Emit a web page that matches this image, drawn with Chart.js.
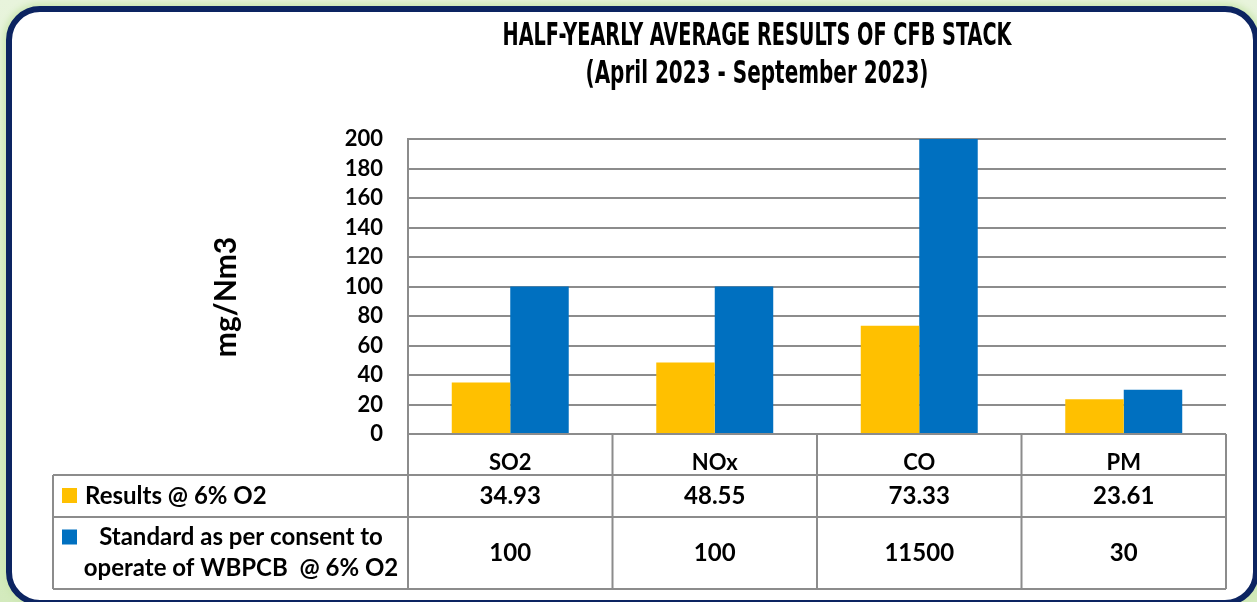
<!DOCTYPE html>
<html>
<head>
<meta charset="utf-8">
<title>CFB stack results</title>
<script src="https://cdn.jsdelivr.net/npm/chart.js@4.4.0/dist/chart.umd.min.js"></script>
<style>
  html, body {
    margin: 0;
    padding: 0;
    width: 1257px;
    height: 602px;
    overflow: hidden;
    background: linear-gradient(#e8f4dc, #d3eabd);
  }
  .card {
    position: absolute;
    left: 6px;
    top: 6px;
    width: 1253px;
    height: 600px;
    box-sizing: border-box;
    border: 6px solid #0c2461;
    border-radius: 34px;
    background: #fff;
    box-shadow: 0 0 6px 3px #cde7b3;
  }
  #chart { position: absolute; left: 0; top: 0; }
</style>
</head>
<body>
<div class="card"></div>
<canvas id="chart" width="1257" height="602"></canvas>

<script>
// chart data
const categories = ['SO2', 'NOx', 'CO', 'PM'];
const resultValues = [34.93, 48.55, 73.33, 23.61];
const standardValues = [100, 100, 11500, 30];   // CO standard runs off the 0-200 axis
const seriesLabels = [
  ['Results @ 6% O2'],
  ['Standard as per consent to', 'operate of WBPCB  @ 6% O2'],
];
const seriesColours = ['#FFC000', '#0070C0'];
const yTickRange = { min: 0, max: 200, step: 20 };

const titleLines = ['HALF-YEARLY AVERAGE RESULTS OF CFB STACK', '(April 2023 - September 2023)'];
const yAxisTitle = 'mg/Nm3';

const FONT = 'Lato';

// title + y axis title, drawn on the canvas
const headerPlugin = {
  id: 'header',
  afterDraw(chart) {
    const ctx = chart.ctx;
    ctx.save();
    ctx.fillStyle = '#000';
    ctx.font = 'bold 32px "DejaVu Sans Condensed", "DejaVu Sans", sans-serif';
    ctx.textAlign = 'center';
    ctx.textBaseline = 'alphabetic';
    // squeeze each line to the width of the condensed original face
    const widths = [509, 343];
    const baselines = [45, 83];
    titleLines.forEach((line, i) => {
      const sx = widths[i] / ctx.measureText(line).width;
      ctx.save();
      ctx.translate(757, baselines[i]);
      ctx.scale(sx, 1);
      ctx.fillText(line, 0, 0);
      ctx.restore();
    });

    ctx.font = `bold 30px ${FONT}`;
    ctx.translate(226, 297);
    ctx.rotate(-Math.PI / 2);
    ctx.textBaseline = 'middle';
    ctx.fillText(yAxisTitle, 0, 0);
    ctx.restore();
  },
};

// data table under the plot, columns taken from the x scale
const tablePlugin = {
  id: 'dataTable',
  afterDraw(chart) {
    const { ctx, chartArea: area, scales: { x } } = chart;
    const colW = (area.right - area.left) / categories.length;
    const y0 = area.bottom;
    const y1 = y0 + 41;
    const y2 = y1 + 42;
    const y3 = y2 + 72;
    const tableLeft = 53;

    ctx.save();
    ctx.strokeStyle = '#8c8c8c';
    ctx.lineWidth = 2;
    ctx.beginPath();
    [y1, y2, y3].forEach(y => {
      ctx.moveTo(tableLeft, y);
      ctx.lineTo(area.right, y);
    });
    ctx.moveTo(tableLeft, y1);
    ctx.lineTo(tableLeft, y3);
    for (let i = 0; i <= categories.length; i++) {
      const xx = area.left + i * colW;
      ctx.moveTo(xx, y0);
      ctx.lineTo(xx, y3);
    }
    ctx.stroke();

    ctx.textBaseline = 'middle';
    const rowMid = [(y1 + y2) / 2, (y2 + y3) / 2];

    chart.data.datasets.forEach((ds, d) => {
      ctx.fillStyle = '#000';
      ctx.font = `bold 24px ${FONT}`;
      ctx.textAlign = 'center';
      ds.tableValues.forEach((v, i) => {
        ctx.fillText(String(v), x.getPixelForValue(i), rowMid[d]);
      });

      // legend key + series label
      const lines = seriesLabels[d];
      const lh = 31;
      const firstY = rowMid[d] - (lines.length - 1) * lh / 2;
      ctx.fillStyle = ds.backgroundColor;
      ctx.fillRect(62, firstY - 8, 15, 15);
      ctx.fillStyle = '#000';
      ctx.font = `bold 24px ${FONT}`;
      if (lines.length === 1) {
        ctx.textAlign = 'left';
        ctx.fillText(lines[0], 85, firstY);
      } else {
        ctx.textAlign = 'center';
        lines.forEach((t, k) => ctx.fillText(t, 241, firstY + k * lh));
      }
    });
    ctx.restore();
  },
};

new Chart(document.getElementById('chart'), {
  type: 'bar',
  data: {
    labels: categories,
    datasets: [
      {
        label: seriesLabels[0].join(' '),
        data: resultValues,
        tableValues: resultValues,
        backgroundColor: seriesColours[0],
        barPercentage: 1,
        categoryPercentage: 0.572,
      },
      {
        label: seriesLabels[1].join(' '),
        data: standardValues,
        tableValues: standardValues,
        backgroundColor: seriesColours[1],
        barPercentage: 1,
        categoryPercentage: 0.572,
      },
    ],
  },
  options: {
    responsive: false,
    animation: false,
    layout: { padding: { top: 139, right: 31, bottom: 127, left: 0 } },
    plugins: {
      legend: { display: false },
      title: { display: false },
      tooltip: { enabled: false },
    },
    scales: {
      x: {
        grid: { display: false },
        border: { display: false },
        ticks: {
          color: '#000',
          padding: 8,
          font: { family: FONT, size: 22, weight: 'bold' },
        },
        afterFit: s => { s.height = 41; },
      },
      y: {
        min: yTickRange.min,
        max: yTickRange.max,
        ticks: {
          stepSize: yTickRange.step,
          color: '#000',
          padding: 25,
          font: { family: FONT, size: 22, weight: 'bold' },
        },
        grid: { color: '#8c8c8c', lineWidth: 2, drawTicks: false },
        border: { color: '#8c8c8c', width: 2 },
        afterFit: s => { s.width = 408; },
      },
    },
  },
  plugins: [headerPlugin, tablePlugin],
});
</script>
</body>
</html>
